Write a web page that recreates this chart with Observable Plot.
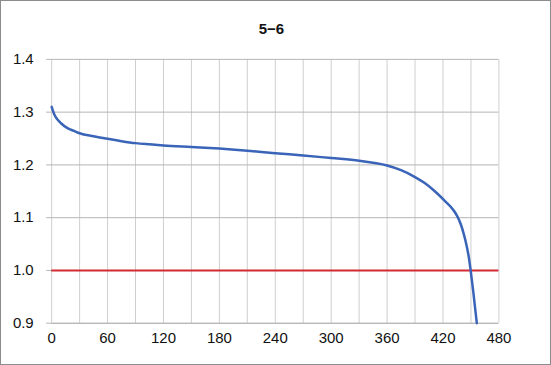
<!DOCTYPE html>
<html>
<head>
<meta charset="utf-8">
<script src="https://cdn.jsdelivr.net/npm/d3@7"></script>
<script src="https://cdn.jsdelivr.net/npm/@observablehq/plot@0.6"></script>
<style>
  html, body { margin: 0; padding: 0; background: #fff; }
  #wrap { position: relative; width: 551px; height: 365px; box-sizing: border-box; border: 1px solid #8c8c8c; overflow: hidden; }
  #title { position: absolute; left: 0; width: 541px; top: 19px; text-align: center; font: bold 15px "Liberation Sans", Arial, sans-serif; color: #111; }
  #chart { position: absolute; left: -1px; top: -1px; }
  #chart svg { font-family: "Liberation Sans", Arial, sans-serif; }
</style>
</head>
<body>
<div id="wrap">
  <div id="title">5−6</div>
  <div id="chart"></div>
</div>
<script>
const titleText = "5−6";
const timeMin = [0, 3, 6.5, 10, 17, 24.5, 30, 45, 60, 75, 90, 105, 120, 150, 180, 210, 240, 270, 300, 330, 345, 360, 375, 390, 400, 410, 423, 430, 435, 439, 442.5, 445.5, 448, 449.7, 452.5, 456.3];
const voltage = [1.31, 1.295, 1.2855, 1.279, 1.2696, 1.264, 1.260, 1.2543, 1.2494, 1.245, 1.2413, 1.239, 1.237, 1.234, 1.231, 1.227, 1.222, 1.218, 1.213, 1.208, 1.204, 1.199, 1.190, 1.177, 1.166, 1.152, 1.130, 1.117, 1.104, 1.088, 1.068, 1.046, 1.022, 1.000, 0.960, 0.900];
const xTicks = [0, 60, 120, 180, 240, 300, 360, 420, 480];
const xGrid = d3.range(0, 481, 30);
const yTicks = [0.9, 1.0, 1.1, 1.2, 1.3, 1.4];
const cutoff = [1.0];

const data = timeMin.map((t, i) => ({t, v: voltage[i]}));

const chart = Plot.plot({
  width: 551,
  height: 365,
  marginLeft: 51.25,
  marginRight: 51.7,
  marginTop: 59,
  marginBottom: 41.7,
  style: {background: "transparent", fontSize: "15px", color: "#111"},
  x: {domain: [0, 480], ticks: xTicks, tickSize: 0, tickPadding: 9, label: null, tickFormat: d => String(d)},
  y: {domain: [0.9, 1.4], ticks: yTicks, tickSize: 5, tickPadding: 13, label: null, tickFormat: d => d.toFixed(1)},
  marks: [
    Plot.ruleX(xGrid, {stroke: "#cfcfcf", strokeWidth: 1}),
    Plot.ruleY(yTicks.filter(d => d > 0.9), {stroke: "#b5b5b5", strokeWidth: 1}),
    Plot.ruleY([0.9], {stroke: "#9a9a9a", strokeWidth: 1}),
    Plot.ruleY(cutoff, {stroke: "#d42a35", strokeWidth: 2}),
    Plot.line(data, {x: "t", y: "v", stroke: "#3a64b8", strokeWidth: 2.5, curve: "monotone-x"}),
    Plot.axisY({ticks: yTicks, tickSize: 5, tickPadding: 13, stroke: "#b5b5b5", tickFormat: d => d.toFixed(1)})
  ]
});
document.getElementById("chart").appendChild(chart);
</script>
</body>
</html>
